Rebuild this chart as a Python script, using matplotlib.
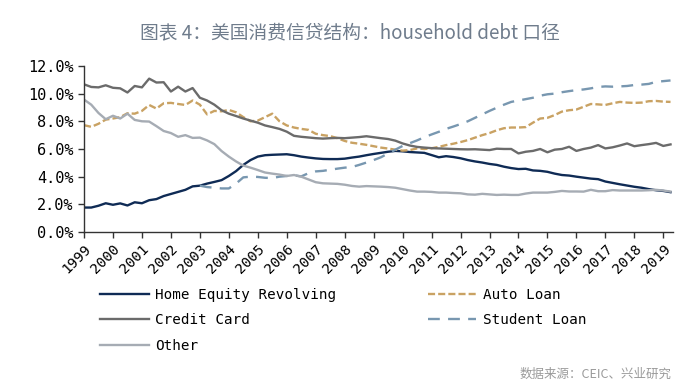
import numpy as np
import pandas as pd
import matplotlib
matplotlib.use('Agg')
import matplotlib.pyplot as plt

plt.rcParams['font.family'] = ['DejaVu Sans Mono', 'Noto Sans CJK SC']

# quarterly, 1999Q1 .. 2019Q2
quarters = pd.period_range('1999Q1', '2019Q2', freq='Q')
years = [str(y) for y in range(1999, 2020)]

home_equity = [1.77, 1.77, 1.9, 2.08, 1.97, 2.07, 1.92, 2.15, 2.08, 2.3,
               2.38, 2.6, 2.75, 2.9, 3.05, 3.3, 3.35, 3.5, 3.62, 3.75,
               4.05, 4.4, 4.85, 5.2, 5.45, 5.55, 5.58, 5.6, 5.62, 5.55,
               5.45, 5.38, 5.32, 5.28, 5.27, 5.27, 5.3, 5.38, 5.45, 5.55,
               5.64, 5.72, 5.8, 5.86, 5.83, 5.78, 5.75, 5.72, 5.56, 5.4,
               5.48, 5.42, 5.33, 5.2, 5.1, 5.02, 4.92, 4.85, 4.72, 4.62,
               4.55, 4.57, 4.45, 4.42, 4.35, 4.22, 4.12, 4.08, 4.0, 3.93,
               3.86, 3.82, 3.65, 3.55, 3.45, 3.36, 3.27, 3.2, 3.1, 3.02,
               2.97, 2.88]
credit_card = [10.67, 10.48, 10.45, 10.6, 10.42, 10.38, 10.08, 10.55, 10.45, 11.08,
               10.8, 10.82, 10.15, 10.5, 10.15, 10.4, 9.7, 9.5, 9.2, 8.8,
               8.55, 8.38, 8.2, 8.05, 7.9, 7.7, 7.58, 7.45, 7.25, 6.95,
               6.88, 6.83, 6.78, 6.75, 6.78, 6.8, 6.78, 6.82, 6.86, 6.92,
               6.85, 6.78, 6.72, 6.6, 6.4, 6.25, 6.15, 6.1, 6.06, 6.04,
               6.02, 6.0, 5.98, 5.97, 5.98, 5.95, 5.92, 6.02, 6.0, 6.0,
               5.68, 5.8, 5.86, 6.0, 5.76, 5.95, 6.0, 6.16, 5.86, 6.0,
               6.1, 6.28, 6.04, 6.12, 6.25, 6.4, 6.2, 6.28, 6.35, 6.44,
               6.22, 6.33]
auto_loan = [7.72, 7.6, 7.82, 8.12, 8.2, 8.3, 8.58, 8.55, 8.75, 9.18,
             8.92, 9.3, 9.33, 9.25, 9.18, 9.5, 9.2, 8.5, 8.75, 8.72,
             8.82, 8.65, 8.3, 8.0, 8.05, 8.3, 8.55, 8.0, 7.7, 7.55,
             7.45, 7.38, 7.1, 7.0, 6.93, 6.78, 6.58, 6.45, 6.38, 6.3,
             6.2, 6.1, 6.03, 5.95, 5.88, 5.92, 6.04, 6.0, 6.05, 6.15,
             6.28, 6.38, 6.5, 6.64, 6.82, 7.0, 7.15, 7.35, 7.5, 7.55,
             7.55, 7.58, 7.9, 8.2, 8.25, 8.45, 8.7, 8.8, 8.85, 9.05,
             9.25, 9.22, 9.18, 9.3, 9.4, 9.35, 9.33, 9.35, 9.45, 9.47,
             9.42, 9.4]
student_loan = [np.nan] * 16 + [
                3.35, 3.25, 3.2, 3.15,
                3.15, 3.5, 3.95, 4.0, 3.98, 3.92, 3.9, 4.0, 4.05, 4.1,
                4.02, 4.25, 4.38, 4.42, 4.5, 4.58, 4.65, 4.7, 4.85, 5.02,
                5.2, 5.4, 5.68, 5.95, 6.22, 6.42, 6.62, 6.85, 7.05, 7.24,
                7.45, 7.62, 7.8, 8.0, 8.25, 8.5, 8.75, 8.98, 9.2, 9.4,
                9.5, 9.6, 9.7, 9.85, 9.95, 10.0, 10.1, 10.18, 10.25, 10.3,
                10.38, 10.48, 10.52, 10.5, 10.52, 10.55, 10.62, 10.65, 10.7, 10.85,
                10.9, 10.95]
other = [9.57, 9.2, 8.6, 8.15, 8.4, 8.2, 8.55, 8.1, 8.0, 7.98,
         7.65, 7.3, 7.15, 6.88, 7.0, 6.8, 6.82, 6.62, 6.35, 5.85,
         5.45, 5.1, 4.8, 4.65, 4.48, 4.3, 4.22, 4.15, 4.05, 4.12,
         4.0, 3.8, 3.6, 3.52, 3.5, 3.48, 3.42, 3.33, 3.28, 3.32,
         3.3, 3.28, 3.25, 3.2, 3.1, 3.0, 2.92, 2.92, 2.9, 2.85,
         2.85, 2.82, 2.8, 2.72, 2.7, 2.76, 2.72, 2.68, 2.7, 2.68,
         2.68, 2.78, 2.85, 2.85, 2.85, 2.9, 2.97, 2.93, 2.93, 2.92,
         3.05, 2.95, 2.95, 3.03, 3.0, 3.0, 3.0, 3.0, 3.02, 3.05,
         3.0, 2.92]

x = np.arange(len(quarters))
lw = 1.7

fig = plt.figure(figsize=(7, 3.9), dpi=100)
ax = fig.add_axes([0.12, 0.405, 0.841, 0.426])

h1, = ax.plot(x, home_equity, c='#0f2b55', lw=lw, label='Home Equity Revolving')
h2, = ax.plot(x, auto_loan, c='#c9a263', lw=lw, dashes=(3, 1.3), label='Auto Loan')
h3, = ax.plot(x, credit_card, c='#6b6b6b', lw=lw, label='Credit Card')
h4, = ax.plot(x, student_loan, c='#7897b0', lw=lw, dashes=(5, 3.5), label='Student Loan')
h5, = ax.plot(x, other, c='#a6acb4', lw=lw, label='Other')

ax.set_xlim(0, 81.3)
ax.set_ylim(0, 12)
ax.set_yticks(np.arange(0, 12.1, 2))
ax.set_yticklabels(['%.1f%%' % v for v in np.arange(0, 12.1, 2)], fontsize=11)
ax.set_xticks(np.arange(0, 81, 4))
ax.set_xticklabels(years, rotation=45, ha='right', va='top',
                   rotation_mode='anchor', fontsize=10.3)
ax.tick_params(axis='both', direction='out', length=4, width=1, color='#333333')
ax.tick_params(axis='x', pad=3)
for s in ['top', 'right']:
    ax.spines[s].set_visible(False)
for s in ['left', 'bottom']:
    ax.spines[s].set_color('#333333')
    ax.spines[s].set_linewidth(1)

fig.legend(handles=[h1, h3, h5, h2, h4], ncol=2, frameon=False,
           loc='upper left', bbox_to_anchor=(0.143, 0.262),
           borderpad=0, borderaxespad=0, handlelength=3.4, handletextpad=0.45,
           columnspacing=6.4, labelspacing=0.8, prop={'size': 10.3})

fig.text(0.5, 0.915, '图表 4：美国消费信贷结构：household debt 口径',
         ha='center', va='center', fontsize=13.5, color='#6f7c8c',
         family=['Noto Sans CJK SC', 'DejaVu Sans'])
fig.text(0.96, 0.04, '数据来源：CEIC、兴业研究', ha='right', va='center',
         fontsize=9, color='#9a9a9a', family=['Noto Sans CJK SC', 'DejaVu Sans'])

plt.savefig('out.png', dpi=100)
